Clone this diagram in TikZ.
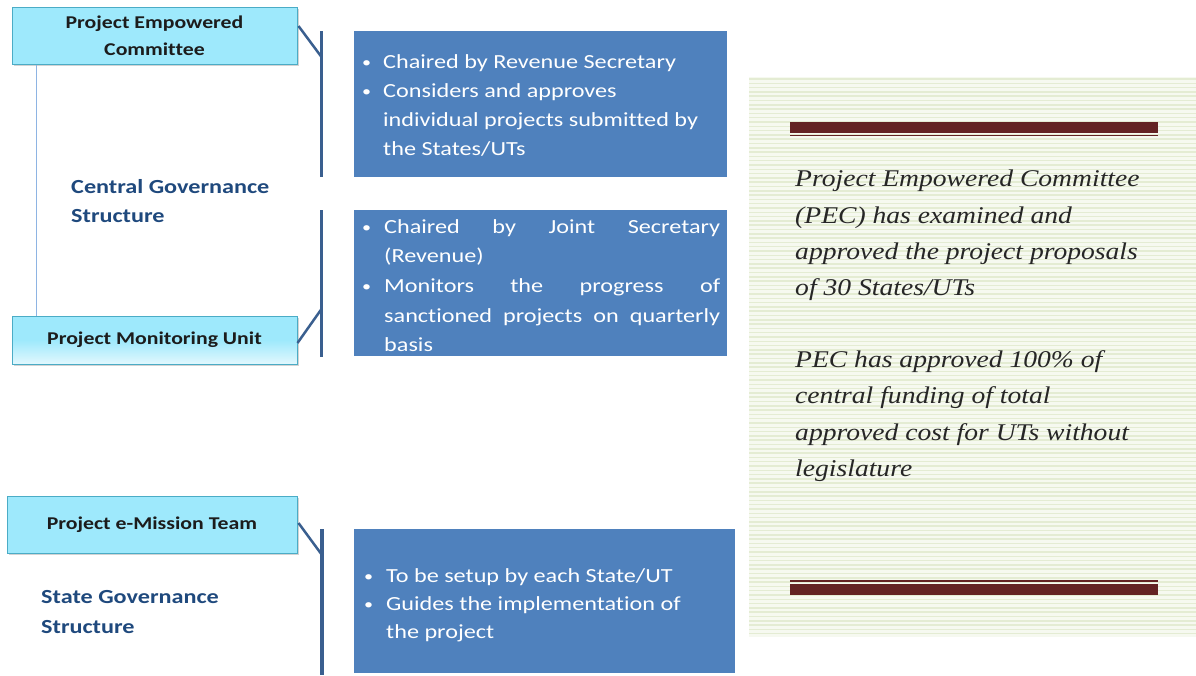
\documentclass[tikz,border=0pt]{standalone}
\usepackage{fontspec}
\setmainfont[FakeStretch=1.21, Ligatures=NoCommon]{Carlito}
\newfontfamily\rfont[FakeStretch=1.15]{Liberation Serif}
\usetikzlibrary{shadows}
\definecolor{cyanfill}{HTML}{9EE9FC}
\definecolor{cyanlight}{HTML}{E2F8FE}
\definecolor{cyanborder}{HTML}{4BACC6}
\definecolor{boxblue}{HTML}{4F81BD}
\definecolor{brk}{HTML}{3A5F8F}
\definecolor{lbl}{HTML}{1F497D}
\definecolor{thinblue}{HTML}{8EB4E3}
\definecolor{barmaroon}{HTML}{632323}
\definecolor{panelbg}{HTML}{F6F9F0}
\definecolor{stripe}{HTML}{E4ECD3}
\definecolor{darktext}{HTML}{1C1C1C}
\definecolor{rtext}{HTML}{262626}
\tikzset{
  cbox/.style={draw=cyanborder, fill=cyanfill, line width=1pt, inner sep=0pt,
    align=center, text=darktext, font=\bfseries\fontsize{18}{27}\selectfont,
    drop shadow={opacity=0.35, shadow xshift=2pt, shadow yshift=-2pt}},
  bbox/.style={fill=boxblue, inner sep=0pt, anchor=north west},
  btext/.style={anchor=base west, inner sep=0pt, text=white, font=\fontsize{20}{24}\selectfont},
  bdot/.style={anchor=base west, inner sep=0pt, text=white, font=\fontsize{15}{18}\selectfont},
  ltext/.style={anchor=base west, inner sep=0pt, text=lbl, font=\bfseries\fontsize{20}{24}\selectfont},
  rt/.style={anchor=base west, inner sep=0pt, text=rtext, font=\rfont\itshape\fontsize{24}{30}\selectfont},
  brkline/.style={draw=brk, line width=3.5pt},
  diag/.style={draw=brk, line width=2.5pt},
  bar/.style={fill=barmaroon, inner sep=0pt, anchor=north west}
}
\begin{document}
\begin{tikzpicture}[x=1pt,y=-1pt]
\useasboundingbox (0,0) rectangle (1196,675);
% right panel
\node[fill=panelbg, inner sep=0pt, minimum width=447pt, minimum height=560pt, anchor=north west] (panel) at (749,77) {};
\foreach \i in {0,...,129} {
  \draw[stripe, line width=1.5pt] (749,79+4.3*\i) -- (1196,79+4.3*\i);
}
\node[bar, minimum width=368pt, minimum height=11pt] (bar1) at (790,122) {};
\node[bar, minimum width=368pt, minimum height=1.8pt] (bar1b) at (790,134.3) {};
\node[bar, minimum width=368pt, minimum height=1.8pt] (bar2b) at (790,580) {};
\node[bar, minimum width=368pt, minimum height=11pt] (bar2) at (790,584) {};

\node[rt] (r1) at (795,186) {Project Empowered Committee};
\node[rt] (r2) at (795,223) {(PEC) has examined and};
\node[rt] (r3) at (795,259) {approved the project proposals};
\node[rt] (r4) at (795,295) {of 30 States/UTs};
\node[rt] (r5) at (795,367) {PEC has approved 100\% of};
\node[rt] (r6) at (795,403) {central funding of total};
\node[rt] (r7) at (795,440) {approved cost for UTs without};
\node[rt] (r8) at (795,476) {legislature};

% cyan boxes
\node[cbox, minimum width=285pt, minimum height=57pt] (pec) at (154.5,35.5) {Project Empowered\\Committee};
\node[cbox, minimum width=285pt, minimum height=48pt, fill=none, top color=cyanfill, bottom color=cyanlight, middle color=cyanfill] (pmu) at (154.5,340) {\raisebox{-2pt}{Project Monitoring Unit}};
\node[cbox, minimum width=290pt, minimum height=57pt] (pemt) at (152,524.5) {Project e-Mission Team};

\draw[thinblue, line width=1pt] ([xshift=25pt]pec.south west) -- ([xshift=25pt]pmu.north west);

% labels
\node[ltext] (cg1) at (71,193) {Central Governance};
\node[ltext] (cg2) at (71,222) {Structure};
\node[ltext] (sg1) at (41,603) {State Governance};
\node[ltext] (sg2) at (41,633) {Structure};

% brackets
\coordinate (k1t) at (321.5,31);
\coordinate (k1b) at (321.5,177);
\coordinate (k1m) at (321.5,57);
\coordinate (k2t) at (321.5,210);
\coordinate (k2b) at (321.5,357);
\coordinate (k2m) at (321.5,309);
\coordinate (k3t) at (322,529);
\coordinate (k3b) at (322,675);
\coordinate (k3m) at (322,555);
\draw[brkline] (k1t) -- (k1b);
\draw[brkline] (k2t) -- (k2b);
\draw[brkline] (k3t) -- (k3b);
\draw[diag] ([shift={(1,-9.5)}]pec.east) -- (k1m);
\draw[diag] ([shift={(0,3)}]pmu.east) -- (k2m);
\draw[diag] ([shift={(1,-1.5)}]pemt.east) -- (k3m);

% blue boxes
\node[bbox, minimum width=373pt, minimum height=146pt] (b1) at (354,31) {};
\node[bbox, minimum width=373pt, minimum height=146pt] (b2) at (354,210) {};
\node[bbox, minimum width=381pt, minimum height=144pt] (b3) at (354,529) {};

\node[bdot] (b1d1) at (362,67) {•};
\node[bdot] (b1d2) at (362,96) {•};
\node[btext] (b1l1) at (383,68) {Chaired by Revenue Secretary};
\node[btext] (b1l2) at (383,97) {Considers and approves};
\node[btext] (b1l3) at (383,126) {individual projects submitted by};
\node[btext] (b1l4) at (383,155) {the States/UTs};

\node[bdot] (b2d1) at (362,232) {•};
\node[bdot] (b2d2) at (362,291) {•};
\node[btext] (b2l1) at (384,233) {\makebox[336pt][s]{Chaired by Joint Secretary}};
\node[btext] (b2l2) at (384,262) {(Revenue)};
\node[btext] (b2l3) at (384,292) {\makebox[336pt][s]{Monitors the progress of}};
\node[btext] (b2l4) at (384,322) {\makebox[336pt][s]{sanctioned projects on quarterly}};
\node[btext] (b2l5) at (384,351) {basis};

\node[bdot] (b3d1) at (364,581) {•};
\node[bdot] (b3d2) at (364,609) {•};
\node[btext] (b3l1) at (386,582) {To be setup by each State/UT};
\node[btext] (b3l2) at (386,610) {Guides the implementation of};
\node[btext] (b3l3) at (386,638) {the project};
\end{tikzpicture}
\end{document}
